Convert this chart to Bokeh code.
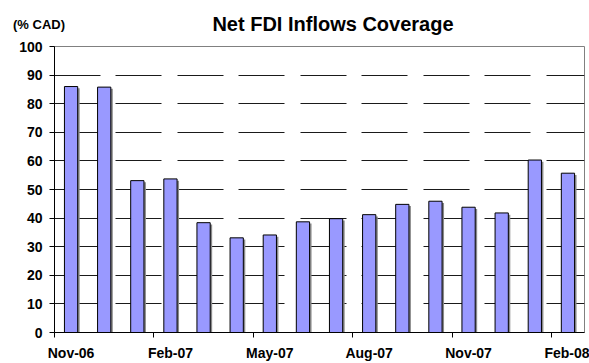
from bokeh.plotting import figure
from bokeh.layouts import column
from bokeh.models import Range1d, FixedTicker, Div
from bokeh.embed import file_html
from bokeh.resources import INLINE

# Net FDI inflows as a share of the current account deficit (% CAD), monthly
months = ["Nov-06", "Dec-06", "Jan-07", "Feb-07", "Mar-07", "Apr-07",
          "May-07", "Jun-07", "Jul-07", "Aug-07", "Sep-07", "Oct-07",
          "Nov-07", "Dec-07", "Jan-08", "Feb-08"]
coverage = [86.0, 85.8, 53.1, 53.7, 38.4, 33.1, 34.1, 38.7,
            39.8, 41.2, 44.8, 45.9, 43.8, 41.8, 60.3, 55.7]
y_ticks = [0, 10, 20, 30, 40, 50, 60, 70, 80, 90, 100]
label_every = 3
heading = "Net FDI Inflows Coverage"
unit_note = "(% CAD)"

FONT = "Liberation Sans"
W = 589
HEAD_H = 40

n = len(months)
xc = [i + 0.5 for i in range(n)]

# ---- heading strip ----
head_html = (
    f'<div style="position:relative;width:{W}px;height:{HEAD_H}px;'
    f"font-family:'{FONT}',sans-serif;font-weight:bold;color:#000;"
    'line-height:1;white-space:nowrap">'
    f'<span style="position:absolute;left:13px;top:18px;font-size:13px">'
    f'{unit_note}</span>'
    f'<span style="position:absolute;left:333px;top:13.6px;font-size:20px;'
    f'transform:translateX(-50%)">{heading}</span>'
    '</div>'
)
head = Div(text=head_html, width=W, height=HEAD_H, margin=(0, 0, 0, 0))

# ---- bar chart ----
p = figure(width=W, height=363 - HEAD_H, output_backend="svg",
           toolbar_location=None, x_range=Range1d(0, n),
           y_range=Range1d(0, 100), min_border_left=54, min_border_right=5,
           min_border_top=6, min_border_bottom=31, margin=(0, 0, 0, 0),
           background_fill_color="white", border_fill_color="white")

p.outline_line_color = "#808080"
p.outline_line_width = 1

# bar shadow, then bar
p.vbar(x=[v + 0.06 for v in xc], top=[c - 0.6 for c in coverage], width=0.4,
       fill_color="#8a8a8a", line_color=None)
p.vbar(x=xc, top=coverage, width=0.4, fill_color="#9999FF",
       line_color="black", line_width=1)

# y axis
p.yaxis.ticker = FixedTicker(ticks=y_ticks)
p.yaxis.axis_line_color = "black"
p.yaxis.major_tick_in = 0
p.yaxis.major_tick_out = 5
p.yaxis.minor_tick_line_color = None
p.yaxis.major_label_standoff = 7
p.yaxis.major_label_text_font = FONT
p.yaxis.major_label_text_font_style = "bold"
p.yaxis.major_label_text_font_size = "14px"
p.yaxis.major_label_text_color = "black"

# x axis: labels centred on categories, tick marks on category boundaries
lab_idx = list(range(0, n, label_every))
p.xaxis.ticker = FixedTicker(ticks=[i + 0.5 for i in lab_idx],
                             minor_ticks=[float(i) for i in lab_idx])
p.xaxis.major_label_overrides = {i + 0.5: months[i] for i in lab_idx}
p.xaxis.axis_line_color = "black"
p.xaxis.major_tick_line_color = None
p.xaxis.major_tick_in = 0
p.xaxis.major_tick_out = 0
p.xaxis.minor_tick_line_color = "black"
p.xaxis.minor_tick_in = 0
p.xaxis.minor_tick_out = 5
p.xaxis.major_label_standoff = 7
p.xaxis.major_label_text_font = FONT
p.xaxis.major_label_text_font_style = "bold"
p.xaxis.major_label_text_font_size = "14px"
p.xaxis.major_label_text_color = "black"

p.xgrid.grid_line_color = None
p.ygrid.grid_line_color = "#1a1a1a"
p.ygrid.grid_line_width = 1
p.ygrid.grid_line_dash = "46 15 46 16"

layout = column(head, p, spacing=0)
open("out.html", "w").write(file_html(layout, INLINE))
